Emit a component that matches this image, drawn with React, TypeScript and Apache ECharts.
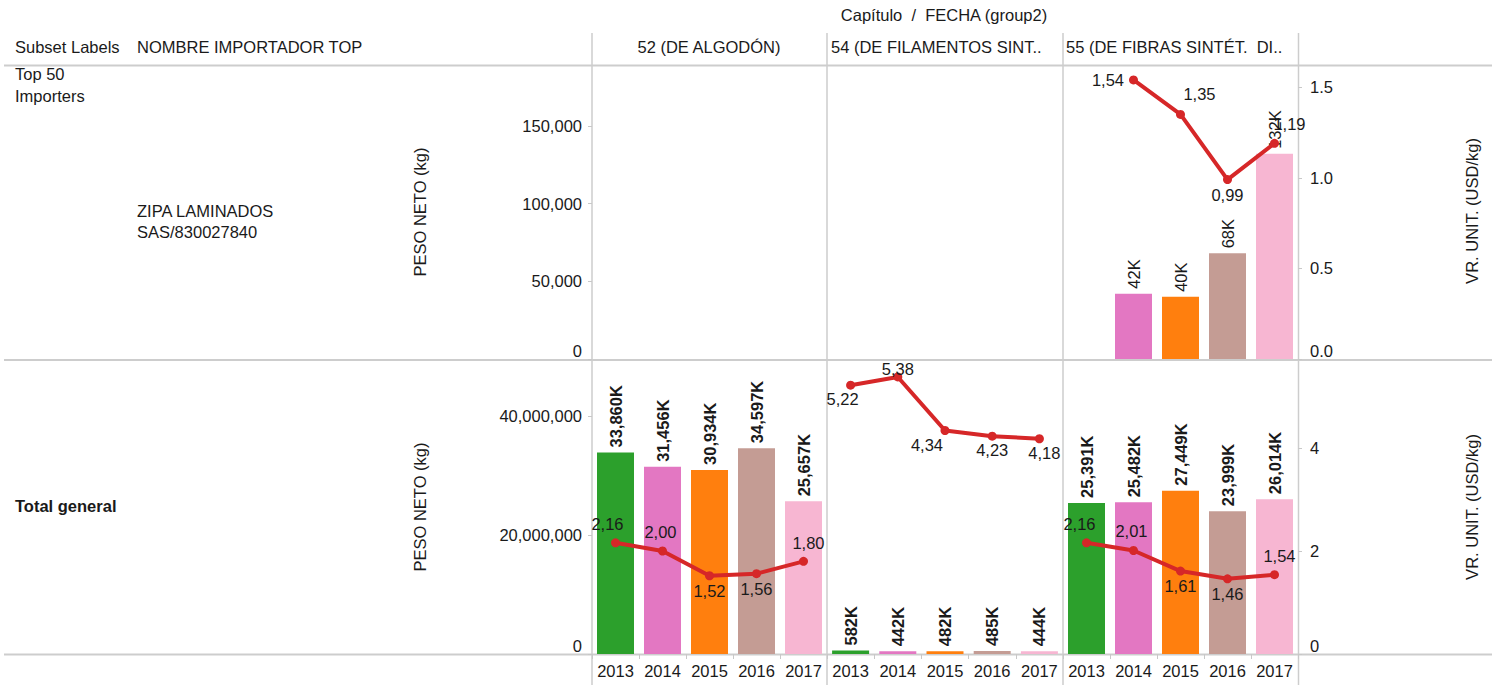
import React, { useEffect, useRef } from 'react';
import * as echarts from 'echarts';

// ---------- data ----------
const years = ['2013', '2014', '2015', '2016', '2017'];
const yearColors = ['#2ca02c', '#e377c2', '#ff7f0e', '#c49c94', '#f7b6d2'];
const chapters = ['52 (DE ALGODÓN)', '54 (DE FILAMENTOS SINT..', '55 (DE FIBRAS SINTÉT.  DI..'];

// Row 1: Top 50 Importers – ZIPA LAMINADOS SAS/830027840
const top50Peso52: (number | null)[] = [null, null, null, null, null];
const top50Peso54: (number | null)[] = [null, null, null, null, null];
const top50Peso55: (number | null)[] = [null, 42000, 40000, 68000, 132000];
const top50Vr52: (number | null)[] = [null, null, null, null, null];
const top50Vr54: (number | null)[] = [null, null, null, null, null];
const top50Vr55: (number | null)[] = [null, 1.54, 1.35, 0.99, 1.19];

// Row 2: Total general
const totalPeso52 = [33860000, 31456000, 30934000, 34597000, 25657000];
const totalPeso54 = [582000, 442000, 482000, 485000, 444000];
const totalPeso55 = [25391000, 25482000, 27449000, 23999000, 26014000];
const totalVr52 = [2.16, 2.0, 1.52, 1.56, 1.8];
const totalVr54 = [5.22, 5.38, 4.34, 4.23, 4.18];
const totalVr55 = [2.16, 2.01, 1.61, 1.46, 1.54];

// axis ticks
const pesoTicksTop = [0, 50000, 100000, 150000];
const pesoTicksTotal = [0, 20000000, 40000000];
const vrTicksTop = [0, 0.5, 1.0, 1.5];
const vrTicksTotal = [0, 2, 4];

// ---------- layout / style (not data) ----------
const FONT = "'Liberation Sans', Arial, sans-serif";
const FS = 16.5;
const TXT = '#1a1a1a';
const LINE_C = '#cdcdcd';
const colLeft = [592, 827, 1063];
const colWidth = [235, 236, 235];
const rowTop = [66, 361];
const rowH = 293;
const pesoMax = [188500, 49240000];
const vrMax = [1.617, 5.69];

// label placement of the line labels per panel: [position, dx, dy]
type Place = [string, number, number];
const placeTop55: Place[] = [['top', 0, 0], ['left', 0, 0], ['top', 19, -2], ['bottom', 0, -3], ['top', 15, -1]];
const placeTot52: Place[] = [['top', -8, -1], ['top', -2, -1], ['bottom', 0, -3], ['bottom', 0, -3], ['top', 5, 0]];
const placeTot54: Place[] = [['bottom', -8, -4], ['top', 0, 10], ['bottom', -18, -4], ['bottom', 0, -4], ['bottom', 5, -4]];
const placeTot55: Place[] = [['top', -7, -1], ['top', -2, -1], ['bottom', 0, -3], ['bottom', 0, -3], ['top', 5, -1]];
const placeNone: Place[] = years.map(() => ['top', 0, 0] as Place);

const panels = [
  { row: 0, col: 0, peso: top50Peso52, vr: top50Vr52, place: placeNone },
  { row: 0, col: 1, peso: top50Peso54, vr: top50Vr54, place: placeNone },
  { row: 0, col: 2, peso: top50Peso55, vr: top50Vr55, place: placeTop55 },
  { row: 1, col: 0, peso: totalPeso52, vr: totalVr52, place: placeTot52 },
  { row: 1, col: 1, peso: totalPeso54, vr: totalVr54, place: placeTot54 },
  { row: 1, col: 2, peso: totalPeso55, vr: totalVr55, place: placeTot55 },
];

function fmtK(v: number, row: number) {
  const k = Math.round(v / 1000);
  return (row === 0 ? String(k) : k.toLocaleString('en-US')) + 'K';
}

export default function App() {
  const ref = useRef<HTMLDivElement>(null);

  useEffect(() => {
    document.body.style.margin = '0';
    const chart = echarts.init(ref.current!, null, { renderer: 'svg' });

    const grids: any[] = [];
    const xAxes: any[] = [];
    const yAxes: any[] = [];
    const series: any[] = [];

    panels.forEach((p, i) => {
      grids.push({ left: colLeft[p.col], top: rowTop[p.row], width: colWidth[p.col], height: rowH, containLabel: false });
      xAxes.push({
        type: 'category',
        gridIndex: i,
        data: years,
        show: p.row === 1,
        axisLine: { show: false },
        axisTick: { show: true, interval: 0, length: 5, lineStyle: { color: '#c8c8c8' } },
        axisLabel: { interval: 0, hideOverlap: false, color: TXT, fontFamily: FONT, fontSize: FS, margin: 8 },
      });
      const pt = p.row === 0 ? pesoTicksTop : pesoTicksTotal;
      const vt = p.row === 0 ? vrTicksTop : vrTicksTotal;
      yAxes.push({
        type: 'value',
        gridIndex: i,
        position: 'left',
        min: 0,
        max: pesoMax[p.row],
        show: p.col === 0,
        splitLine: { show: false },
        axisLine: { show: false },
        axisTick: { show: true, length: 4, customValues: pt, lineStyle: { color: '#c8c8c8' } },
        axisLabel: {
          customValues: pt,
          color: TXT,
          fontFamily: FONT,
          fontSize: FS,
          margin: 10,
          verticalAlignMinLabel: 'bottom',
          formatter: (v: number) => v.toLocaleString('en-US'),
        },
      });
      yAxes.push({
        type: 'value',
        gridIndex: i,
        position: 'right',
        min: 0,
        max: vrMax[p.row],
        show: p.col === 2,
        splitLine: { show: false },
        axisLine: { show: false },
        axisTick: { show: true, length: 4, customValues: vt, lineStyle: { color: '#c8c8c8' } },
        axisLabel: {
          customValues: vt,
          color: TXT,
          fontFamily: FONT,
          fontSize: FS,
          margin: 12,
          verticalAlignMinLabel: 'bottom',
          formatter: (v: number) => (p.row === 0 ? v.toFixed(1) : String(v)),
        },
      });
      series.push({
        type: 'bar',
        xAxisIndex: i,
        yAxisIndex: i * 2,
        barWidth: 37,
        data: p.peso.map((v, j) => ({ value: v, itemStyle: { color: yearColors[j] } })),
        label: {
          show: true,
          position: 'top',
          rotate: 90,
          align: 'left',
          verticalAlign: 'middle',
          distance: 5,
          color: TXT,
          fontFamily: FONT,
          fontSize: FS,
          fontWeight: p.row === 1 ? 'bold' : 'normal',
          formatter: (d: any) => (d.value == null ? '' : fmtK(d.value, p.row)),
        },
        z: 2,
      });
      series.push({
        type: 'line',
        xAxisIndex: i,
        yAxisIndex: i * 2 + 1,
        symbol: 'circle',
        symbolSize: 9,
        connectNulls: false,
        itemStyle: { color: '#d62728' },
        lineStyle: { color: '#d62728', width: 4 },
        data: p.vr.map((v, j) => ({
          value: v,
          label: {
            show: v != null,
            position: p.place[j][0],
            offset: [p.place[j][1], p.place[j][2]],
            distance: 5,
            color: TXT,
            fontFamily: FONT,
            fontSize: FS,
            formatter: (d: any) => (d.value == null ? '' : Number(d.value).toFixed(2).replace('.', ',')),
          },
        })),
        z: 5,
      });
    });

    const hLine = (y: number) => ({
      type: 'line',
      shape: { x1: 4, y1: y, x2: 1492, y2: y },
      style: { stroke: LINE_C, lineWidth: 2 },
      z: 0,
    });
    const vLine = (x: number) => ({
      type: 'line',
      shape: { x1: x, y1: 33, x2: x, y2: 685 },
      style: { stroke: LINE_C, lineWidth: 1.5 },
      z: 0,
    });
    const txt = (text: string, x: number, y: number, extra: any = {}) => ({
      type: 'text',
      x,
      y,
      style: { text, fill: TXT, font: `${FS}px ${FONT}`, verticalAlign: 'middle', ...extra },
      z: 10,
    });

    const graphic: any[] = [
      hLine(65.5), hLine(360), hLine(654.5),
      vLine(592), vLine(827), vLine(1063), vLine(1298.5),
      txt('Capítulo  /  FECHA (group2)', 944, 15, { align: 'center' }),
      txt('Subset Labels', 15, 47),
      txt('NOMBRE IMPORTADOR TOP', 137, 47),
      txt(chapters[0], 709, 47, { align: 'center' }),
      txt(chapters[1], 831, 47),
      txt(chapters[2], 1066, 47),
      txt('Top 50', 15, 74),
      txt('Importers', 15, 96),
      txt('ZIPA LAMINADOS', 137, 211),
      txt('SAS/830027840', 137, 232),
      { ...txt('Total general', 15, 506), style: { text: 'Total general', fill: TXT, font: `bold ${FS}px ${FONT}`, verticalAlign: 'middle' } },
      { ...txt('PESO NETO (kg)', 420, 212, { align: 'center' }), rotation: Math.PI / 2 },
      { ...txt('PESO NETO (kg)', 420, 507, { align: 'center' }), rotation: Math.PI / 2 },
      { ...txt('VR. UNIT. (USD/kg)', 1472, 211, { align: 'center' }), rotation: Math.PI / 2 },
      { ...txt('VR. UNIT. (USD/kg)', 1472, 507, { align: 'center' }), rotation: Math.PI / 2 },
    ];

    chart.setOption({
      animation: false,
      backgroundColor: '#ffffff',
      grid: grids,
      xAxis: xAxes,
      yAxis: yAxes,
      series,
      graphic,
    });

    return () => chart.dispose();
  }, []);

  return <div ref={ref} style={{ width: 1492, height: 685 }} />;
}
